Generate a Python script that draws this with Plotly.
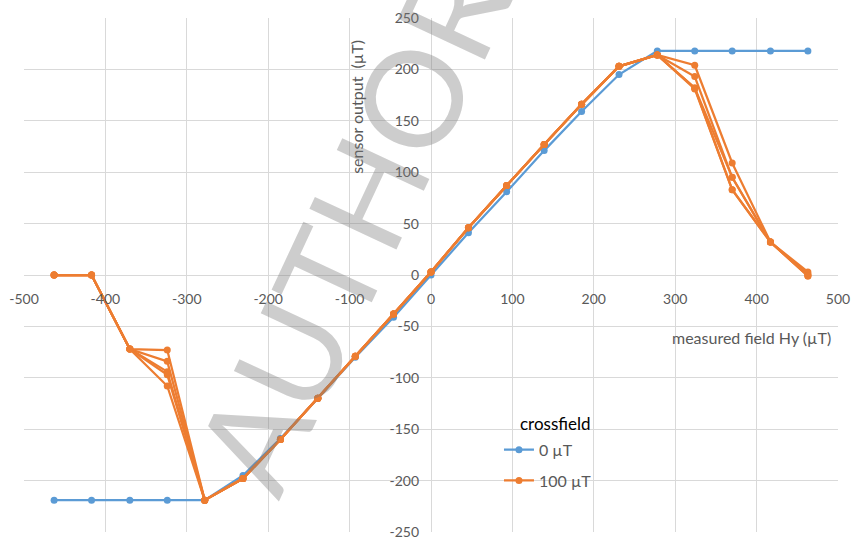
import plotly.graph_objects as go

# Applied field steps (µT)
field = [-463, -417, -370, -324, -278, -231, -185, -139, -93, -46, 0,
         46, 93, 139, 185, 231, 278, 324, 370, 417, 463]

# Sensor response without crossfield
out_0uT = [-219, -219, -219, -219, -219, -195, -159, -120, -80, -41, 0,
           41, 81, 121, 159, 195, 218, 218, 218, 218, 218]

# Sensor response with 100 µT crossfield, one curve per crossfield orientation
out_100uT = [
    [0, 0, -72, -73, -219, -198, -160, -120, -79, -38, 3,
     46, 87, 127, 166, 203, 214, 204, 109, 32, 3],
    [0, 0, -72, -84, -219, -198, -160, -120, -79, -38, 3,
     46, 87, 127, 166, 203, 214, 193, 95, 32, 1],
    [0, 0, -72, -94, -219, -198, -160, -120, -79, -38, 3,
     46, 87, 127, 166, 203, 214, 182, 95, 32, 0],
    [0, 0, -72, -97, -219, -198, -160, -120, -79, -38, 3,
     46, 87, 127, 166, 203, 214, 182, 83, 32, -1],
    [0, 0, -72, -108, -219, -198, -160, -120, -79, -38, 3,
     46, 87, 127, 166, 203, 214, 181, 83, 32, -1],
]

x_ticks = list(range(-500, 501, 100))
y_ticks = list(range(-250, 251, 50))

BLUE = "#5B9BD5"
ORANGE = "#ED7D31"
GRID = "#D9D9D9"
TEXT = "#595959"
FONT = "Lato, Carlito, 'Open Sans', sans-serif"

fig = go.Figure()

fig.add_trace(go.Scatter(
    x=field, y=out_0uT, mode="lines+markers", name="0 µT",
    line=dict(color=BLUE, width=2.25), marker=dict(color=BLUE, size=7),
    legendgroup="g0",
))

for i, curve in enumerate(out_100uT):
    fig.add_trace(go.Scatter(
        x=field, y=curve, mode="lines+markers", name="100 µT",
        line=dict(color=ORANGE, width=2.25), marker=dict(color=ORANGE, size=7),
        legendgroup="g100", showlegend=(i == 0),
    ))

fig.update_xaxes(
    range=[-500, 500], tickvals=x_ticks, ticktext=[str(v) for v in x_ticks],
    showgrid=True, gridcolor=GRID, gridwidth=1,
    zeroline=True, zerolinecolor=GRID, zerolinewidth=1,
    showline=False, ticks="", anchor="free", position=0.5,
    tickfont=dict(family=FONT, size=14, color=TEXT), ticklabelstandoff=14,
    domain=[0, 1], automargin=False,
)
fig.update_yaxes(
    range=[-250, 250], tickvals=y_ticks, ticktext=[str(v) for v in y_ticks],
    showgrid=True, gridcolor=GRID, gridwidth=1,
    zeroline=True, zerolinecolor=GRID, zerolinewidth=1,
    showline=False, ticks="", anchor="free", position=0.5,
    tickfont=dict(family=FONT, size=14, color=TEXT), ticklabelstandoff=12,
    domain=[0, 1], automargin=False,
)

fig.update_layout(
    width=854, height=541,
    margin=dict(l=24, r=16, t=18, b=9, autoexpand=False),
    paper_bgcolor="white", plot_bgcolor="white",
    font=dict(family=FONT, color=TEXT),
    legend=dict(
        font=dict(family=FONT, size=16, color=TEXT),
        x=0.5835, y=0.193, xanchor="left", yanchor="top",
        bgcolor="rgba(0,0,0,0)", tracegroupgap=7,
    ),
    annotations=[
        dict(text="crossfield", xref="paper", yref="paper",
             x=0.607, y=0.212, xanchor="left", yanchor="middle", showarrow=False,
             font=dict(family=FONT, size=17, color="black")),
        dict(text="sensor output  (µT)", xref="paper", yref="paper",
             x=0.409, y=0.827, xanchor="center", yanchor="middle",
             textangle=-90, showarrow=False,
             font=dict(family=FONT, size=16, color=TEXT)),
        dict(text="measured field Hy (µT)", xref="paper", yref="paper",
             x=0.994, y=0.379, xanchor="right", yanchor="middle", showarrow=False,
             font=dict(family=FONT, size=16, color=TEXT)),
        # watermark
        dict(text="AUTHOR", xref="paper", yref="paper",
             x=(350 - 24) / 814, y=1 - (226 - 18) / 514,
             xanchor="center", yanchor="middle",
             textangle=-65, showarrow=False,
             font=dict(family="Lato, 'Open Sans', sans-serif", size=134,
                       color="rgba(120,120,120,0.37)")),
    ],
)

fig.write_html("out.html")
